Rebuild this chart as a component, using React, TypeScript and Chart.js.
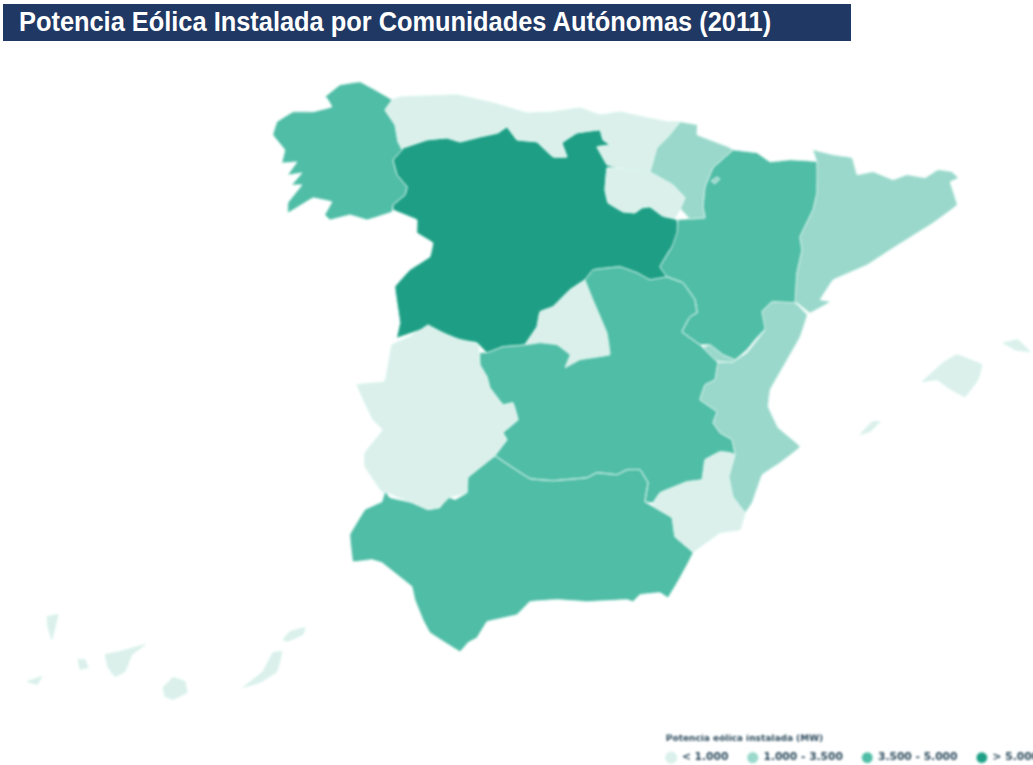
import React, { useEffect, useRef } from "react";
import { Chart, registerables } from "chart.js";

Chart.register(...registerables);

const TITLE = "Potencia Eólica Instalada por Comunidades Autónomas (2011)";
const LEGEND_TITLE = "Potencia eólica instalada (MW)";
const CLASS_LABELS = ["< 1.000", "1.000 - 3.500", "3.500 - 5.000", "> 5.000"];
const CLASS_COLORS = ["#DCF0EB", "#9AD8CB", "#50BDA6", "#1E9F85"];

type P = [number, number];

const galicia: P[] = [[325,97],[340,85],[360,82],[375,90],[392,100],[385,110],[395,125],[398,142],[402,150],[393,160],[397,175],[407,187],[405,195],[393,205],[392,212],[377,217],[367,220],[350,215],[330,220],[325,215],[332,202],[313,198],[288,213],[288,203],[302,185],[292,185],[302,173],[288,175],[297,162],[282,163],[285,150],[273,135],[277,122],[293,112],[313,112],[332,107],[327,98]];
const cornisa: P[] = [[392,100],[400,97],[457,95],[480,100],[493,103],[527,113],[553,112],[580,108],[600,115],[620,112],[643,117],[668,122],[680,122],[668,137],[657,148],[650,172],[620,168],[607,165],[597,147],[610,145],[603,140],[600,130],[577,133],[562,143],[567,157],[553,157],[537,142],[517,140],[507,127],[498,133],[480,137],[460,142],[447,138],[427,140],[403,148],[398,142],[395,125],[385,110]];
const rioja: P[] = [[607,168],[650,172],[673,185],[685,198],[680,210],[675,218],[665,217],[650,207],[642,208],[635,213],[623,212],[608,203],[605,190]];
const navarra: P[] = [[680,122],[697,125],[697,135],[728,147],[733,150],[713,168],[705,187],[703,207],[705,218],[690,219],[680,208],[685,198],[673,185],[650,172],[657,148],[668,137]];
const petilla: P[] = [[711,181],[717,177],[720,179],[715,184]];
const castillaLeon: P[] = [[403,148],[427,140],[447,138],[460,142],[480,137],[498,133],[507,127],[517,140],[537,142],[553,157],[567,157],[562,143],[577,133],[600,130],[603,140],[610,145],[597,147],[607,160],[620,167],[607,168],[605,190],[608,203],[623,212],[635,213],[642,208],[650,207],[662,216],[677,220],[678,233],[677,240],[668,253],[660,267],[667,277],[650,280],[637,273],[620,267],[593,270],[585,280],[570,290],[553,307],[540,312],[537,327],[525,345],[503,347],[487,353],[477,343],[460,340],[443,333],[430,327],[397,338],[400,323],[395,287],[410,270],[430,257],[433,243],[417,233],[417,220],[393,210],[393,205],[405,195],[407,187],[397,175],[393,160],[402,150]];
const trevino: P[] = [[622,158],[630,159],[637,165],[630,164],[622,161]];
const aragon: P[] = [[733,150],[757,153],[770,162],[790,160],[817,162],[817,193],[813,210],[800,237],[802,250],[797,273],[795,303],[772,302],[762,312],[767,327],[755,340],[747,350],[735,360],[723,355],[710,345],[700,345],[682,332],[690,317],[697,313],[695,300],[683,283],[667,277],[660,267],[672,247],[677,233],[678,220],[690,219],[705,218],[703,207],[705,187],[713,168]];
const catalunya: P[] = [[813,150],[833,155],[852,158],[857,175],[873,172],[893,180],[907,175],[925,178],[938,170],[952,172],[958,178],[950,182],[957,205],[933,223],[890,250],[867,265],[833,280],[820,300],[830,302],[810,313],[797,303],[795,303],[797,273],[802,250],[800,237],[813,210],[817,193],[817,162]];
const valencia: P[] = [[772,302],[795,303],[807,315],[800,337],[787,360],[770,390],[768,407],[778,428],[800,447],[780,463],[762,475],[752,503],[745,513],[733,497],[729,477],[735,455],[732,440],[720,433],[713,423],[717,412],[700,400],[705,385],[715,380],[718,363],[733,362],[747,353],[765,330],[762,312]];
const ademuz: P[] = [[703,348],[710,345],[723,355],[735,360],[733,363],[716,361]];
const madrid: P[] = [[585,280],[570,290],[553,307],[540,312],[537,327],[525,345],[540,343],[557,345],[570,355],[565,368],[580,360],[610,355],[607,333],[593,300]];
const castillaLaMancha: P[] = [[585,280],[593,270],[620,267],[637,273],[650,280],[667,277],[683,283],[695,300],[697,313],[690,317],[682,332],[700,345],[703,348],[716,361],[718,363],[715,380],[705,385],[700,400],[717,412],[713,423],[720,433],[732,440],[735,455],[730,453],[720,452],[705,460],[702,480],[687,482],[660,493],[653,503],[645,502],[648,483],[640,470],[627,470],[617,475],[597,473],[587,478],[553,481],[530,479],[495,456],[507,440],[503,433],[518,420],[513,403],[503,405],[490,388],[487,377],[480,365],[480,353],[487,353],[503,347],[525,345],[537,327],[540,312],[553,307],[570,290]];
const extremadura: P[] = [[428,325],[450,337],[478,345],[480,365],[487,377],[490,388],[503,405],[513,403],[518,420],[503,433],[507,440],[495,456],[468,478],[467,493],[450,497],[440,507],[428,510],[412,503],[388,493],[382,492],[365,467],[365,453],[383,430],[373,420],[357,385],[385,382],[392,345],[410,337]];
const andalucia: P[] = [[495,456],[530,479],[553,481],[587,478],[597,473],[617,475],[627,470],[640,470],[648,483],[645,502],[655,508],[672,518],[675,537],[693,553],[680,578],[668,598],[660,593],[640,595],[633,602],[627,600],[587,602],[557,600],[530,602],[517,615],[487,622],[477,638],[468,643],[460,652],[430,633],[423,620],[415,600],[412,587],[387,567],[382,563],[372,560],[353,562],[350,535],[365,510],[382,502],[385,492],[390,498],[412,503],[428,510],[440,508],[447,497],[455,500],[467,493],[468,477]];
const murcia: P[] = [[653,503],[660,493],[687,482],[702,480],[705,460],[720,452],[730,453],[735,455],[729,477],[733,497],[745,513],[740,530],[720,533],[693,552],[675,537],[672,518],[655,508]];
const mallorca: P[] = [[922,382],[943,363],[957,355],[982,365],[978,380],[965,397],[948,388],[937,380]];
const menorca: P[] = [[1003,343],[1018,340],[1030,352],[1015,350]];
const ibiza: P[] = [[860,435],[872,422],[880,422],[870,432]];
const laPalma: P[] = [[47,617],[58,615],[55,628],[52,640],[48,628]];
const elHierro: P[] = [[27,682],[42,677],[37,685]];
const laGomera: P[] = [[78,660],[85,660],[88,668],[80,670]];
const tenerife: P[] = [[105,655],[120,652],[145,645],[132,655],[125,672],[115,677],[108,668]];
const granCanaria: P[] = [[163,688],[173,678],[185,682],[187,693],[173,700],[165,697]];
const fuerteventura: P[] = [[243,688],[263,672],[273,653],[282,652],[277,672],[260,683]];
const lanzarote: P[] = [[283,640],[290,632],[305,628],[303,635],[287,642]];

const classRegions: P[][][] = [
  [cornisa, rioja, madrid, extremadura, murcia, mallorca, menorca, ibiza, laPalma, elHierro, laGomera, tenerife, granCanaria, fuerteventura, lanzarote],
  [navarra, petilla, catalunya, valencia, ademuz],
  [galicia, aragon, castillaLaMancha, andalucia],
  [castillaLeon, trevino],
];

function toPoints(regions: P[][]) {
  const out: { x: number | null; y: number | null }[] = [];
  regions.forEach((r) => {
    r.forEach(([x, y]) => out.push({ x, y }));
    out.push({ x: r[0][0], y: r[0][1] });
    out.push({ x: null, y: null });
  });
  return out;
}

const CANVAS_W = 1058;
const CANVAS_H = 776;
const PLOT_H = 735;

export default function App() {
  const ref = useRef<HTMLCanvasElement>(null);
  useEffect(() => {
    const chart = new Chart(ref.current!, {
      type: "line",
      data: {
        datasets: classRegions.map((regions, i) => ({
          label: CLASS_LABELS[i],
          data: toPoints(regions),
          backgroundColor: CLASS_COLORS[i],
          borderColor: "rgba(214,244,236,0.9)",
          borderWidth: 1,
          fill: "shape",
          tension: 0.05,
          pointRadius: 0,
          pointHoverRadius: 0,
          spanGaps: false,
        })),
      } as any,
      options: {
        responsive: false,
        animation: false,
        parsing: { xAxisKey: "x", yAxisKey: "y" },
        layout: { padding: { left: 0, right: 0, top: 0, bottom: 3 } },
        scales: {
          x: { type: "linear", display: false, min: 0, max: CANVAS_W },
          y: { type: "linear", display: false, min: 0, max: PLOT_H, reverse: true },
        },
        plugins: {
          tooltip: { enabled: false },
          legend: {
            display: true,
            position: "bottom",
            align: "end",
            title: {
              display: true,
              text: LEGEND_TITLE,
              color: "#2b4a5c",
              position: "start",
              padding: { top: 0, bottom: -12 },
              font: { family: "DejaVu Sans", size: 9, weight: "bold" },
            },
            labels: {
              usePointStyle: true,
              boxHeight: 8,
              padding: 19,
              color: "#2b4a5c",
              font: { family: "DejaVu Sans", size: 10.7, weight: "bold" },
            },
          },
        },
      } as any,
    });
    return () => chart.destroy();
  }, []);
  return (
    <div style={{ position: "fixed", left: 0, top: 0, width: 1033, height: 765, overflow: "hidden", background: "#fff" }}>
      <canvas
        ref={ref}
        width={CANVAS_W}
        height={CANVAS_H}
        style={{ position: "absolute", left: 0, top: 0, width: CANVAS_W, height: CANVAS_H, filter: "blur(0.8px)" }}
      />
      <div style={{ position: "absolute", left: 3, top: 4, width: 848, height: 37, background: "#1F3864", overflow: "hidden" }}>
        <span
          style={{
            position: "absolute",
            left: 16,
            top: 3,
            whiteSpace: "nowrap",
            fontFamily: "'Liberation Sans'",
            fontWeight: 700,
            fontSize: 27,
            lineHeight: "31px",
            color: "#fff",
            transform: "scaleX(0.94)",
            transformOrigin: "left center",
          }}
        >
          {TITLE}
        </span>
      </div>
    </div>
  );
}
